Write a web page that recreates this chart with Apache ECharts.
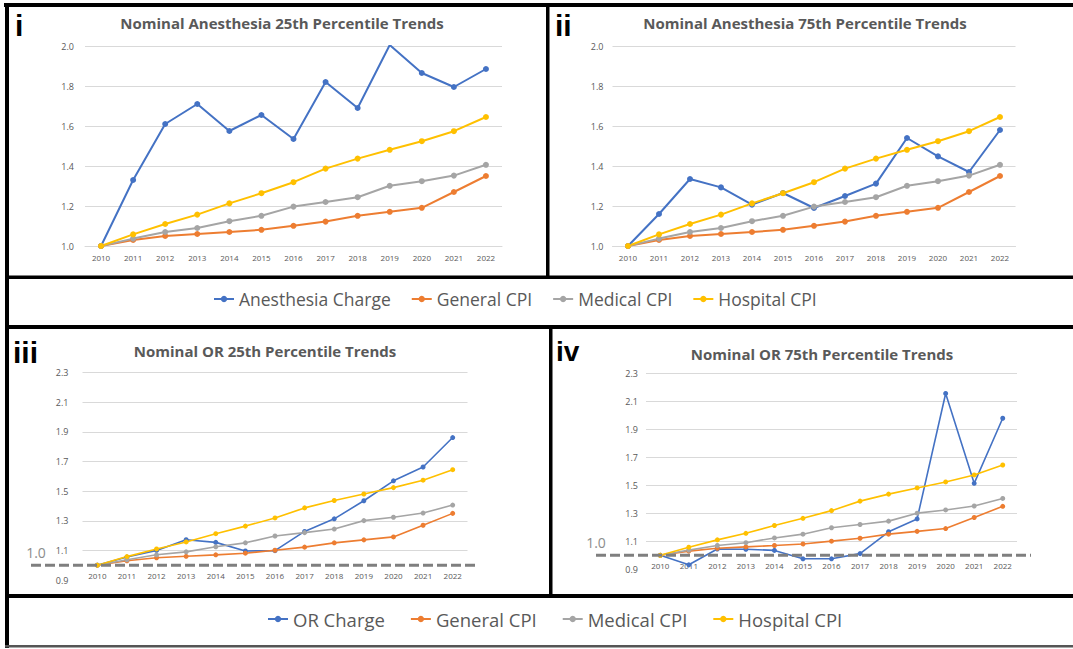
<!DOCTYPE html>
<html><head><meta charset="utf-8">
<script src="https://cdn.jsdelivr.net/npm/echarts@6/dist/echarts.min.js"></script>
<style>html,body{margin:0;padding:0;background:#fff}#c{width:1073px;height:649px}</style>
</head><body><div id="c"></div>
<script>
// ---- data ----
const years = ['2010','2011','2012','2013','2014','2015','2016','2017','2018','2019','2020','2021','2022'];
const anesthesia25 = [1.00,1.33,1.61,1.71,1.575,1.655,1.535,1.82,1.69,2.005,1.865,1.795,1.885];
const anesthesia75 = [1.00,1.16,1.335,1.293,1.207,1.265,1.19,1.25,1.312,1.54,1.448,1.37,1.58];
const or25 = [1.00,1.055,1.10,1.172,1.154,1.096,1.098,1.228,1.313,1.435,1.57,1.663,1.862];
const or75 = [1.00,0.932,1.045,1.043,1.035,0.975,0.975,1.012,1.168,1.26,2.156,1.514,1.979];
const generalCPI = [1.00,1.03,1.05,1.06,1.07,1.081,1.101,1.122,1.151,1.171,1.191,1.27,1.35];
const medicalCPI = [1.00,1.037,1.07,1.09,1.124,1.151,1.197,1.22,1.244,1.301,1.324,1.352,1.406];
const hospitalCPI = [1.00,1.058,1.11,1.157,1.213,1.264,1.319,1.387,1.437,1.481,1.524,1.574,1.645];
const legendTop = ['Anesthesia Charge','General CPI','Medical CPI','Hospital CPI'];
const legendBottom = ['OR Charge','General CPI','Medical CPI','Hospital CPI'];
const titles = ['Nominal Anesthesia 25th Percentile Trends','Nominal Anesthesia 75th Percentile Trends','Nominal OR 25th Percentile Trends','Nominal OR 75th Percentile Trends'];
const panelLabels = ['i','ii','iii','iv'];
const yRangeTop = {min:1.0, max:2.0, interval:0.2};
const yRangeBottom = {min:0.9, max:2.3, interval:0.2};
const refValue = 1.0;

// ---- styles ----
const C = {blue:'#4472C4', orange:'#ED7D31', gray:'#A5A5A5', yellow:'#FFC000'};
const FONT = "'Open Sans', 'Liberation Sans', sans-serif";
const grids = [
  {left:85, top:46, width:417, height:200},
  {left:612.5, top:46, width:403, height:200},
  {left:82.5, top:372.7, width:385, height:207.3},
  {left:646, top:373.3, width:371, height:196}
];
const yLabelMargin = [11, 9, 14, 8];

const chart = echarts.init(document.getElementById('c'), null, {renderer:'svg'});

function xAxisFor(i){
  const bottom = i >= 2;
  const g = grids[i];
  const yr = bottom ? yRangeBottom : yRangeTop;
  const off = bottom ? -(g.height * (refValue - yr.min) / (yr.max - yr.min)) : 0;
  return {
    type:'category', data:years, gridIndex:i, boundaryGap:true, offset:off,
    axisLine:{show:!bottom, lineStyle:{color:'#d9d9d9'}},
    axisTick:{show:false},
    axisLabel:{fontSize:8, color:'#595959', fontFamily:FONT, margin:bottom?6:7}
  };
}
function yAxisFor(i){
  const bottom = i >= 2;
  const yr = bottom ? yRangeBottom : yRangeTop;
  return {
    type:'value', gridIndex:i, min:yr.min, max:yr.max, interval:yr.interval,
    axisLine:{show:false}, axisTick:{show:false},
    splitLine:{lineStyle:{color:'#d9d9d9', width:1}, showMinLine:!bottom},
    axisLabel:{fontSize:9, color:'#595959', fontFamily:FONT, margin:yLabelMargin[i],
      formatter:v=>v.toFixed(1)}
  };
}
function mk(name, data, color, i){
  const bottom = i >= 2;
  return {type:'line', name, data, xAxisIndex:i, yAxisIndex:i,
    symbol:'circle', symbolSize:bottom?5:6, showSymbol:true,
    lineStyle:{width:bottom?1.6:2, color}, itemStyle:{color},
    animation:false, emphasis:{disabled:true}};
}
const primaries = [anesthesia25, anesthesia75, or25, or75];
const primaryNames = ['Anesthesia Charge','Anesthesia Charge','OR Charge','OR Charge'];
const series = [];
for (let i=0;i<4;i++){
  series.push(mk(primaryNames[i], primaries[i], C.blue, i));
  series.push(mk('General CPI', generalCPI, C.orange, i));
  series.push(mk('Medical CPI', medicalCPI, C.gray, i));
  series.push(mk('Hospital CPI', hospitalCPI, C.yellow, i));
}

const titleCenters = [[282,23],[805,23],[265,351],[822,354]];
const labelPos = [[15,25,30],[555,25,30],[13,352,30],[556,351,28]];
const graphics = [];
titles.forEach((t,i)=>graphics.push({type:'text', silent:true, style:{text:t, x:titleCenters[i][0], y:titleCenters[i][1],
  align:'center', verticalAlign:'middle', fill:'#595959', font:"bold 15px "+FONT}}));
panelLabels.forEach((t,i)=>graphics.push({type:'text', silent:true, style:{text:t, x:labelPos[i][0], y:labelPos[i][1],
  align:'left', verticalAlign:'middle', fill:'#000', font:"bold "+labelPos[i][2]+"px 'Liberation Sans', Arial, sans-serif"}}));
const borders = [
  [4,3,1069,4],[5,3,4,645],[546,3,3.5,276],[5,275.5,1068,3.5],[5,325,1068,4],
  [549,327,3.5,271],[5,594,1068,4]
];
borders.forEach(b=>graphics.push({type:'rect', silent:true, shape:{x:b[0],y:b[1],width:b[2],height:b[3]}, style:{fill:'#000'}}));
graphics.push({type:'rect', silent:true, shape:{x:5,y:645,width:1068,height:2.5}, style:{fill:'#555'}});

function legendCfg(data, left, top, gap, fs){
  return {data, left, top, itemGap:gap, padding:0, orient:'horizontal', itemWidth:20, itemHeight:8,
    textStyle:{fontSize:fs, color:'#595959', fontFamily:FONT}, selectedMode:false};
}

chart.setOption({
  backgroundColor:'#fff',
  animation:false,
  grid: grids.map(g=>Object.assign({containLabel:false}, g)),
  xAxis: [0,1,2,3].map(xAxisFor),
  yAxis: [0,1,2,3].map(yAxisFor),
  legend: [
    legendCfg(legendTop, 213, 290, 20, 17.5),
    legendCfg(legendBottom, 267, 609.5, 25, 18.5)
  ],
  series,
  graphic: graphics
});

// reference dashed lines at 1.0 in the OR panels, with "1.0" annotations
const refSpecs = [{axis:2, x1:31, x2:477, tx:36, dy:-13}, {axis:3, x1:596, x2:1031, tx:596, dy:-13}];
refSpecs.forEach(r=>{
  const y = chart.convertToPixel({yAxisIndex:r.axis}, refValue);
  graphics.push({type:'line', silent:true, z:10, shape:{x1:r.x1, y1:y, x2:r.x2, y2:y},
    style:{stroke:'#7f7f7f', lineWidth:3, lineDash:[10,4]}});
  graphics.push({type:'text', silent:true, style:{text:refValue.toFixed(1), x:r.tx, y:y+r.dy, align:'center', verticalAlign:'middle',
    fill:'#8c8c8c', font:"14px "+FONT}});
});
chart.setOption({graphic: graphics});
</script>
</body></html>
